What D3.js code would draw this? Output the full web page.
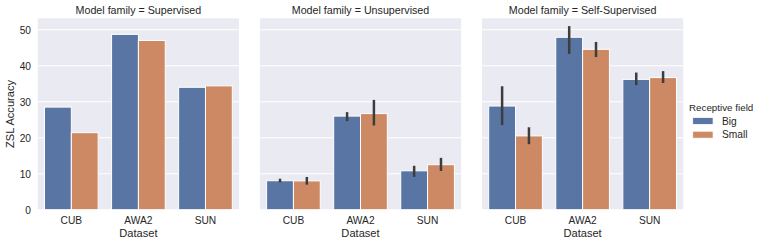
<!DOCTYPE html>
<html>
<head>
<meta charset="utf-8">
<script src="https://cdn.jsdelivr.net/npm/d3@7"></script>
<style>
  html, body { margin: 0; padding: 0; background: #ffffff; }
  svg { display: block; font-family: "Liberation Sans", Arial, Helvetica, sans-serif; }
</style>
</head>
<body>
<svg id="chart" width="761" height="245"></svg>
<script>
// ---- data ----
const datasets = ["CUB", "AWA2", "SUN"];
const families = ["Supervised", "Unsupervised", "Self-Supervised"];
const fields = ["Big", "Small"];
const yTicks = [0, 10, 20, 30, 40, 50];

// mean accuracy per family, per field, per dataset
const supervisedBig   = [28.5, 48.7, 34.0];
const supervisedSmall = [21.4, 47.0, 34.4];
const unsupBig        = [8.05, 26.0, 10.8];
const unsupSmall      = [8.0, 26.7, 12.5];
const selfBig         = [28.8, 47.9, 36.2];
const selfSmall       = [20.5, 44.55, 36.7];

// confidence interval bounds (null = single observation, no error bar)
const supervisedBigLo = [null, null, null], supervisedBigHi = [null, null, null];
const supervisedSmallLo = [null, null, null], supervisedSmallHi = [null, null, null];
const unsupBigLo   = [7.6, 24.6, 9.1],   unsupBigHi   = [8.6, 27.1, 12.2];
const unsupSmallLo = [6.95, 23.4, 10.75], unsupSmallHi = [9.1, 30.5, 14.4];
const selfBigLo    = [23.5, 43.3, 34.6], selfBigHi    = [34.3, 51.0, 38.1];
const selfSmallLo  = [18.2, 42.4, 35.2], selfSmallHi  = [22.9, 46.6, 38.5];

const table = {
  "Supervised":      { Big: [supervisedBig, supervisedBigLo, supervisedBigHi], Small: [supervisedSmall, supervisedSmallLo, supervisedSmallHi] },
  "Unsupervised":    { Big: [unsupBig, unsupBigLo, unsupBigHi], Small: [unsupSmall, unsupSmallLo, unsupSmallHi] },
  "Self-Supervised": { Big: [selfBig, selfBigLo, selfBigHi], Small: [selfSmall, selfSmallLo, selfSmallHi] }
};

// ---- layout ----
const svg = d3.select("#chart");
const panelW = 201.2, panelGap = 20.9, left0 = 37.8;
const plotTop = 18.3, plotBottom = 209.7;
const colors = d3.scaleOrdinal().domain(fields).range(["#5975a4", "#cc8963"]);
const textColor = "#262626";

const y = d3.scaleLinear().domain([0, 53.17]).range([plotBottom, plotTop]);

families.forEach((fam, i) => {
  const x0 = left0 + i * (panelW + panelGap);
  const g = svg.append("g").attr("transform", `translate(${x0},0)`);

  const x = d3.scaleBand().domain(datasets).range([0, panelW]).paddingInner(0.2).paddingOuter(0.1);
  const xi = d3.scaleBand().domain(fields).range([0, x.bandwidth()]);

  g.append("rect").attr("x", 0).attr("y", plotTop).attr("width", panelW).attr("height", plotBottom - plotTop)
    .attr("fill", "#eaeaf2");

  g.selectAll("line.grid").data(yTicks).enter().append("line")
    .attr("x1", 0).attr("x2", panelW)
    .attr("y1", d => y(d)).attr("y2", d => y(d))
    .attr("stroke", "#ffffff").attr("stroke-width", 1.1);

  fields.forEach(f => {
    const [vals, lo, hi] = table[fam][f];
    g.selectAll(null).data(datasets).enter().append("rect")
      .attr("x", d => x(d) + xi(f))
      .attr("y", (d, j) => y(vals[j]))
      .attr("width", xi.bandwidth())
      .attr("height", (d, j) => y(0) - y(vals[j]))
      .attr("fill", colors(f))
      .attr("stroke", "#ffffff").attr("stroke-width", 1);
    g.selectAll(null).data(datasets.filter((d, j) => lo[j] !== null)).enter().append("line")
      .attr("x1", d => x(d) + xi(f) + xi.bandwidth() / 2)
      .attr("x2", d => x(d) + xi(f) + xi.bandwidth() / 2)
      .attr("y1", d => y(lo[datasets.indexOf(d)]))
      .attr("y2", d => y(hi[datasets.indexOf(d)]))
      .attr("stroke", "#3d3d3d").attr("stroke-width", 2.5);
  });

  // x axis tick labels
  const xAxis = d3.axisBottom(x).tickSize(0).tickPadding(0);
  const ax = g.append("g").attr("transform", `translate(0,${plotBottom})`).call(xAxis);
  ax.select(".domain").remove();
  ax.selectAll("text").attr("dy", null).attr("y", 13.9)
    .attr("font-size", 10.2).attr("fill", textColor)
    .attr("font-family", "Liberation Sans, Arial, sans-serif");

  g.append("text").attr("x", panelW / 2).attr("y", 237.3).attr("text-anchor", "middle")
    .attr("font-size", 11.1).attr("fill", textColor).text("Dataset");

  g.append("text").attr("x", panelW / 2).attr("y", 13.8).attr("text-anchor", "middle")
    .attr("font-size", 10.7).attr("fill", textColor).text(`Model family = ${fam}`);

  if (i === 0) {
    const yAxis = d3.axisLeft(y).tickValues(yTicks).tickSize(0).tickPadding(0);
    const ay = g.append("g").call(yAxis);
    ay.select(".domain").remove();
    ay.selectAll("text").attr("x", -6.8).attr("dy", "0.34em")
      .attr("font-size", 10.2).attr("fill", textColor)
      .attr("font-family", "Liberation Sans, Arial, sans-serif");
  }
});

// y axis label
svg.append("text")
  .attr("transform", `translate(13.6,${(plotTop + plotBottom) / 2}) rotate(-90)`)
  .attr("text-anchor", "middle").attr("font-size", 11.1).attr("fill", textColor)
  .text("ZSL Accuracy");

// legend
const lg = svg.append("g");
lg.append("text").attr("x", 689).attr("y", 110.6).attr("font-size", 9.8).attr("fill", textColor)
  .text("Receptive field");
fields.forEach((f, k) => {
  const cy = 121 + k * 13.7;
  lg.append("rect").attr("x", 692.7).attr("y", cy - 3.5).attr("width", 20.4).attr("height", 7)
    .attr("fill", colors(f)).attr("stroke", "#ffffff").attr("stroke-width", 0.8);
  lg.append("text").attr("x", 722).attr("y", cy + 3.6).attr("font-size", 10.2).attr("fill", textColor)
    .text(f);
});
</script>
</body>
</html>
